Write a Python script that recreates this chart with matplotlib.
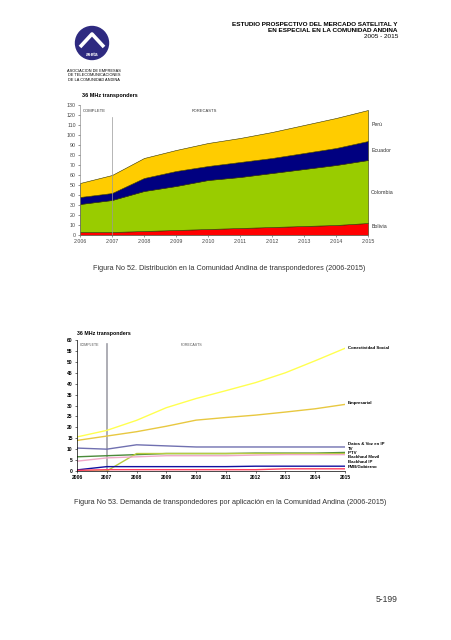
import matplotlib
matplotlib.use("Agg")
import matplotlib.pyplot as plt
from matplotlib.patches import Circle

plt.rcParams['font.family'] = ['Liberation Sans', 'DejaVu Sans']

W, H = 452, 640

# ---- datos figura 52 (apilado) ----
years = [2006, 2007, 2008, 2009, 2010, 2011, 2012, 2013, 2014, 2015]
bolivia = [3, 3, 4, 5, 6, 7, 8, 9, 10, 12]
colombia = [28, 32, 40, 44, 49, 51, 54, 57, 60, 63]
ecuador = [7, 7, 13, 15, 14, 15, 15, 16, 17, 19]
peru = [14, 18, 20, 21, 23, 24, 26, 28, 30, 31]
paises = ['Bolivia', 'Colombia', 'Ecuador', 'Perú']
colores_paises = ['#FF0000', '#99CC00', '#000080', '#FFCC00']
y_ticks1 = list(range(0, 131, 10))

# ---- datos figura 53 (lineas) ----
conectividad = [15.6, 18.6, 23.2, 29, 33.2, 36.8, 40.5, 45, 50.5, 56.2]
empresarial = [14, 16, 18, 20.5, 23.3, 24.5, 25.6, 27, 28.5, 30.5]
datos_voz = [10.5, 10, 12, 11.5, 11, 11, 11, 11, 11, 11]
tv = [6.5, 7, 7.5, 8, 8, 8, 8.2, 8.2, 8.2, 8.5]
iptv = [0, 0, 8, 8, 8, 8, 8, 8, 8, 8]
backhaul_movil = [4.5, 6, 6.5, 7, 7, 7, 7.3, 7.5, 7.5, 7.5]
backhaul_ip = [0.5, 2, 2, 2, 2, 2, 2.2, 2.2, 2.2, 2.2]
gobierno = [0.3, 0.6, 0.6, 0.6, 0.6, 0.6, 0.6, 1, 1, 1]
series2 = [conectividad, empresarial, datos_voz, tv, iptv, backhaul_movil, backhaul_ip, gobierno]
nombres2 = ['Conectividad Social', 'Empresarial', 'Datos & Voz en IP', 'TV', 'IPTV',
            'Backhaul Movil', 'Backhaul IP', 'FMB/Gobierno']
colores2 = ['#FFFF50', '#E8C840', '#7070B0', '#4A8A3A', '#B8CC40', '#F0A8C8', '#1010A0', '#FF4060']
y_ticks2 = list(range(0, 61, 5))


def px(x, y):
    return x / W, 1 - y / H


def ftext(x, y, s, **kw):
    fig.text(*px(x, y), s, **kw)


fig = plt.figure(figsize=(W / 100, H / 100), dpi=100)
fig.patch.set_facecolor('white')

# encabezado
ftext(398, 24, 'ESTUDIO PROSPECTIVO DEL MERCADO SATELITAL Y', ha='right', va='center',
      fontsize=4.6, fontweight='bold')
ftext(398, 30, 'EN ESPECIAL EN LA COMUNIDAD ANDINA', ha='right', va='center',
      fontsize=4.6, fontweight='bold')
ftext(398, 36, '2005 - 2015', ha='right', va='center', fontsize=4.6)

# logo
logo = fig.add_axes([70 / W, 1 - 61 / H, 44 / W, 36 / H])
logo.set_xlim(0, 44)
logo.set_ylim(0, 36)
logo.set_aspect('equal')
logo.axis('off')
logo.add_patch(Circle((22, 18), 16.5, color='#2E2A80'))
logo.plot([10, 22, 34], [14, 27, 14], color='white', lw=2.6, solid_capstyle='butt')
logo.text(22, 7, 'aseta', color='white', ha='center', va='center', fontsize=3.5, fontweight='bold')
for i, t in enumerate(['ASOCIACION DE EMPRESAS', 'DE TELECOMUNICACIONES', 'DE LA COMUNIDAD ANDINA']):
    ftext(94, 71 + i * 4.5, t, ha='center', va='center', fontsize=2.8)

# ---- figura 52 ----
ax1 = fig.add_axes([80 / W, 1 - 235 / H, 288 / W, 130 / H])
ax1.stackplot(years, bolivia, colombia, ecuador, peru, colors=colores_paises,
              edgecolor='#333300', linewidth=0.4)
ax1.set_xlim(2006, 2015)
ax1.set_ylim(0, 130)
ax1.set_yticks(y_ticks1)
ax1.set_xticks(years)
ax1.set_xticklabels(['{}.{:03d}'.format(y // 1000, y % 1000) for y in years])
ax1.tick_params(labelsize=3.8, length=1.5, width=0.4, colors='#444444', pad=1.5)
for s in ['top', 'right']:
    ax1.spines[s].set_visible(False)
for s in ['left', 'bottom']:
    ax1.spines[s].set_linewidth(0.4)
    ax1.spines[s].set_color('#777777')
ax1.axvline(2007, ymax=0.91, color='#999999', lw=0.5)
ax1.text(2006.1, 124, 'COMPLETE', fontsize=3, color='#333333', va='center')
ax1.text(2009.5, 124, 'FORECASTS', fontsize=3, color='#333333', va='center')
label_y = [8, 42, 85, 111]
for nom, yv in zip(paises, label_y):
    ax1.text(2015.1, yv, nom, fontsize=3.8, color='#333333', va='center', clip_on=False)
ftext(82, 95, '36 MHz transponders', fontsize=4, fontweight='bold', va='center')

ftext(229, 268, 'Figura No 52. Distribución en la Comunidad Andina de transpondedores (2006-2015)',
      ha='center', va='center', fontsize=5.2, color='#333333')

# ---- figura 53 ----
ax2 = fig.add_axes([77 / W, 1 - 471 / H, 268 / W, 131 / H])
for vals, nom, c in zip(series2, nombres2, colores2):
    ax2.plot(years, vals, color=c, lw=1.0)
ax2.set_xlim(2006, 2015)
ax2.set_ylim(0, 60)
ax2.set_yticks(y_ticks2)
ax2.set_xticks(years)
ax2.tick_params(labelsize=3.6, length=1.5, width=0.4, pad=1.5)
for lab in ax2.get_xticklabels() + ax2.get_yticklabels():
    lab.set_fontweight('bold')
for s in ['top', 'right']:
    ax2.spines[s].set_visible(False)
for s in ['left', 'bottom']:
    ax2.spines[s].set_linewidth(0.5)
ax2.axvline(2007, ymax=0.97, color='#A0A0A8', lw=1.2, zorder=0)
ax2.text(2006.1, 57.5, 'COMPLETE', fontsize=2.6, color='#555555', va='center')
ax2.text(2009.5, 57.5, 'FORECASTS', fontsize=2.6, color='#555555', va='center')
label_y2 = [56.5, 31, 12.2, 10.2, 8.2, 6.2, 4.1, 2.0]
for nom, yv in zip(nombres2, label_y2):
    ax2.text(2015.1, yv, nom, fontsize=3.2, fontweight='bold', va='center', clip_on=False)
ftext(77, 334, '36 MHz transponders', fontsize=3.8, fontweight='bold', va='center')

ftext(230, 503, 'Figura No 53. Demanda de transpondedores por aplicación en la Comunidad Andina (2006-2015)',
      ha='center', va='center', fontsize=5.2, color='#333333')

ftext(398, 600, '5-199', ha='right', va='center', fontsize=6.2, color='#333333')

fig.savefig('out.png', dpi=100, facecolor='white')
